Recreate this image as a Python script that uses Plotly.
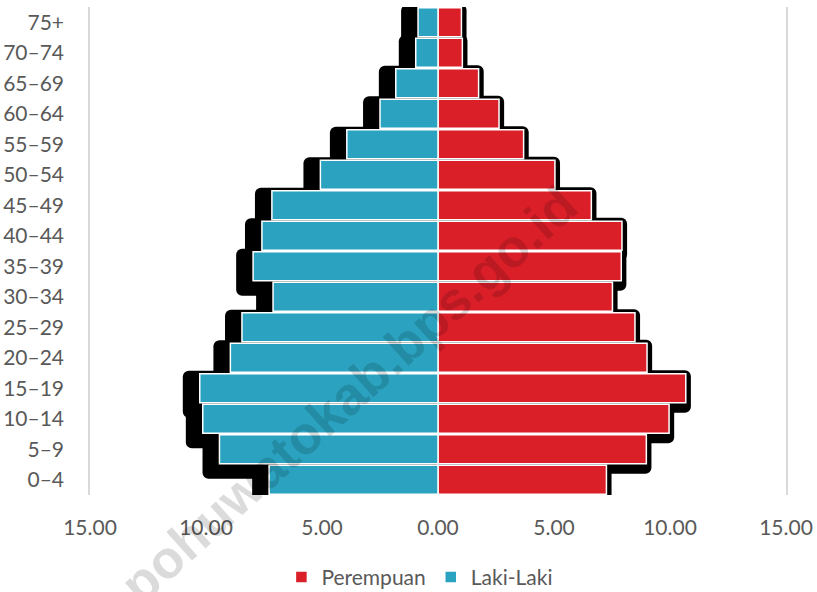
import plotly.graph_objects as go

# Age groups, bottom to top
age_groups = ["0–4", "5–9", "10–14", "15–19", "20–24", "25–29", "30–34", "35–39",
              "40–44", "45–49", "50–54", "55–59", "60–64", "65–69", "70–74", "75+"]

# Share of population (%) per age group
laki_laki = [7.28, 9.42, 10.14, 10.27, 8.95, 8.45, 7.11, 7.97,
             7.59, 7.16, 5.07, 3.93, 2.50, 1.82, 0.96, 0.86]
perempuan = [7.26, 8.98, 9.96, 10.68, 9.01, 8.49, 7.52, 7.90,
             7.93, 6.61, 5.04, 3.69, 2.63, 1.75, 1.05, 1.01]

x_ticks = [-15, -10, -5, 0, 5, 10, 15]

BLUE = "#2BA2BF"
RED = "#DB1F29"
TEXT = "#595959"
AXIS = "#D9D9D9"
FONT = "Lato"

# drop-shadow geometry (axis units)
blue_shadow_dx = 0.73
red_shadow_dx = 0.22

fig = go.Figure()

# shadows behind the bars
fig.add_trace(go.Bar(
    y=age_groups, x=[-(v + blue_shadow_dx) for v in laki_laki], orientation="h",
    width=1.54, offset=-0.966, marker=dict(color="black", cornerradius=6, line=dict(width=0)),
    showlegend=False, hoverinfo="skip"))
fig.add_trace(go.Bar(
    y=age_groups, x=[v + red_shadow_dx for v in perempuan], orientation="h",
    width=1.392, offset=-0.80, marker=dict(color="black", cornerradius=6, line=dict(width=0)),
    showlegend=False, hoverinfo="skip"))

# population bars
fig.add_trace(go.Bar(
    y=age_groups, x=perempuan, orientation="h", name="Perempuan",
    width=0.95, marker=dict(color=RED, line=dict(color="white", width=1.5))))
fig.add_trace(go.Bar(
    y=age_groups, x=[-v for v in laki_laki], orientation="h", name="Laki-Laki",
    width=0.95, marker=dict(color=BLUE, line=dict(color="white", width=1.5))))

center_axis = dict(
    overlaying="y", anchor="free", position=0.5, type="linear",
    range=[-0.5, len(age_groups) - 0.5], tickvals=list(range(len(age_groups))),
    ticklen=6, tickwidth=1.5, tickcolor=AXIS, showticklabels=False,
    showgrid=False, zeroline=False, layer="above traces", automargin=False)

fig.update_layout(
    width=817, height=592,
    margin=dict(l=90, r=31, t=7, b=97, autoexpand=False),
    paper_bgcolor="white", plot_bgcolor="white",
    barmode="overlay",
    font=dict(family=FONT, size=21, color=TEXT),
    xaxis=dict(
        range=[-15, 15], tickvals=x_ticks,
        ticktext=[f"{abs(t):.2f}" for t in x_ticks],
        showgrid=False, zeroline=False, showline=False, ticks="",
        ticklabelstandoff=18, automargin=False,
        tickfont=dict(family=FONT, size=21, color=TEXT)),
    yaxis=dict(
        type="category", categoryorder="array", categoryarray=age_groups,
        range=[-0.5, len(age_groups) - 0.5],
        showgrid=False, zeroline=False, showline=True, mirror=True,
        linecolor=AXIS, linewidth=1.5, ticks="", ticklabelstandoff=20,
        automargin=False, tickfont=dict(family=FONT, size=21, color=TEXT)),
    yaxis2=dict(center_axis, ticks="outside", showline=True, linecolor=AXIS, linewidth=1.5),
    yaxis3=dict(center_axis, ticks="inside", showline=False),
    legend=dict(
        orientation="h", x=0.474, xanchor="center", y=-0.169, yanchor="middle",
        font=dict(family=FONT, size=21, color=TEXT), traceorder="normal",
        itemwidth=30, bgcolor="rgba(0,0,0,0)"),
    annotations=[dict(
        text="<b>pohuwatokab.bps.go.id</b>", xref="paper", yref="paper",
        x=0.372, y=0.205, xanchor="center", yanchor="middle",
        textangle=-42, showarrow=False,
        font=dict(family="Liberation Sans", size=53, color="rgba(0,0,0,0.14)"))],
)

fig.write_html("out.html")
